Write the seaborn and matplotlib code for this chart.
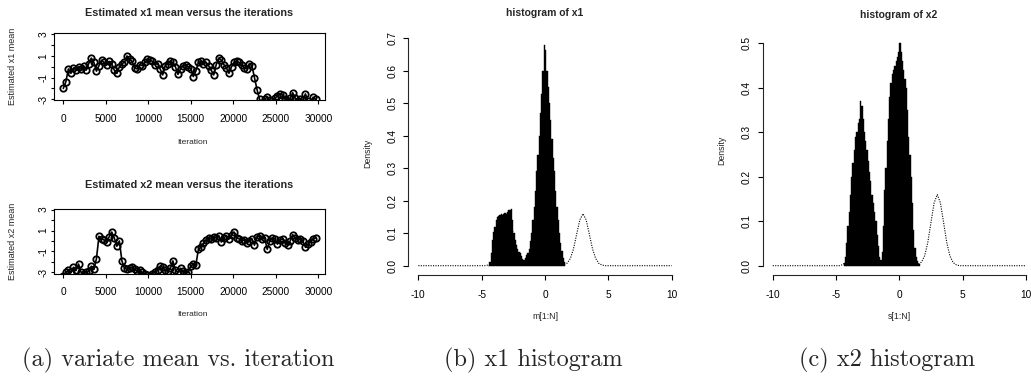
import numpy as np
import pandas as pd
import matplotlib
matplotlib.use("Agg")
import matplotlib.pyplot as plt
import seaborn as sns

# ---------------- data ----------------
iterations = list(range(0, 30000, 300))

x1_mean = [-2.0, -1.4, -0.2, -0.6, -0.1, -0.3, 0.0, -0.2, 0.1, -0.3,
           0.3, 0.8, 0.4, -0.4, 0.1, 0.6, 0.4, 0.2, 0.5, 0.3,
           -0.3, -0.6, 0.0, 0.3, 0.4, 1.0, 0.7, 0.5, -0.1, -0.2,
           0.2, 0.1, 0.4, 0.7, 0.6, 0.5, 0.2, 0.3, -0.2, -0.75,
           0.1, 0.3, 0.5, 0.4, 0.0, -0.7, -0.2, 0.1, 0.2, 0.0,
           -0.2, -0.9, -0.4, 0.4, 0.5, 0.3, 0.4, 0.1, -0.3, -0.75,
           0.2, 0.8, 0.6, 0.2, -0.1, -0.6, 0.0, 0.4, 0.5, 0.4,
           0.2, -0.1, -0.2, 0.3, 0.1, -1.0, -2.1, -3.0, -3.3, -3.0,
           -2.8, -3.1, -3.3, -2.9, -2.7, -2.5, -2.6, -3.0, -3.2, -2.9,
           -2.4, -2.9, -3.2, -3.0, -3.1, -2.5, -3.2, -3.3, -2.8, -3.0]

x2_mean = [-3.3, -3.0, -2.8, -3.0, -2.5, -2.8, -2.2, -3.0, -3.1, -3.0,
           -2.9, -2.4, -2.7, -1.7, 0.45, 0.2, 0.1, -0.1, 0.4, 0.85,
           0.3, -0.5, 0.0, -1.9, -2.6, -2.7, -2.6, -2.5, -2.7, -2.9,
           -2.8, -3.0, -3.1, -3.2, -3.3, -3.1, -3.0, -2.8, -2.4, -2.5,
           -2.8, -2.9, -2.6, -1.9, -2.8, -3.0, -2.6, -2.9, -3.1, -3.0,
           -2.4, -2.2, -2.3, -0.8, -0.6, -0.2, 0.1, 0.3, 0.2, 0.4,
           0.3, 0.5, -0.1, 0.3, 0.5, 0.2, 0.6, 0.85, 0.3, 0.2,
           0.0, 0.1, -0.2, 0.0, 0.2, -0.4, 0.4, 0.5, 0.2, 0.3,
           -0.8, 0.0, 0.3, 0.2, -0.3, 0.1, 0.2, -0.2, -0.4, 0.0,
           0.6, 0.3, 0.1, 0.2, 0.0, -0.6, -0.3, -0.1, 0.2, 0.3]

# histogram of x1: bins of width 0.1, first bin centre -4.45
x1_bin_start = -4.5
x1_density = [0.0, 0.01, 0.04, 0.08, 0.105, 0.12, 0.14, 0.15, 0.152, 0.155,
              0.158, 0.155, 0.16, 0.162, 0.158, 0.165, 0.17, 0.172, 0.176, 0.14,
              0.10, 0.08, 0.065, 0.05, 0.042, 0.04, 0.03, 0.022, 0.018, 0.025,
              0.032, 0.04, 0.05, 0.075, 0.10, 0.14, 0.18, 0.23, 0.29, 0.34,
              0.40, 0.47, 0.53, 0.60, 0.68, 0.665, 0.60, 0.55, 0.50, 0.45,
              0.39, 0.33, 0.29, 0.23, 0.18, 0.14, 0.10, 0.07, 0.045, 0.025,
              0.01]

# histogram of x2: bins of width 0.1, first bin centre -4.35
x2_bin_start = -4.4
x2_density = [0.005, 0.02, 0.05, 0.09, 0.12, 0.16, 0.20, 0.23, 0.26, 0.29,
              0.30, 0.32, 0.33, 0.37, 0.36, 0.33, 0.30, 0.28, 0.26, 0.235,
              0.21, 0.19, 0.16, 0.14, 0.12, 0.10, 0.07, 0.045, 0.02, 0.012,
              0.03, 0.09, 0.17, 0.22, 0.28, 0.33, 0.38, 0.41, 0.43, 0.44,
              0.45, 0.46, 0.47, 0.48, 0.50, 0.48, 0.46, 0.44, 0.42, 0.40,
              0.35, 0.29, 0.25, 0.20, 0.14, 0.08, 0.04, 0.02, 0.01, 0.003]
bin_width = 0.1

# true density (dotted curve)
curve_x = [-10, -4.75, -4.5, -4.25, -4.0, -3.75, -3.5, -3.25, -3.0, -2.75, -2.5,
           -2.25, -2.0, -1.75, -1.5, -1.25, -1.0, -0.75, -0.5, -0.25, 0.0,
           0.25, 0.5, 0.75, 1.0, 1.25, 1.5, 1.75, 2.0, 2.25, 2.5,
           2.75, 3.0, 3.25, 3.5, 3.75, 4.0, 4.25, 4.5, 4.75, 10]
curve_y = [0.0, 0.0, 0.002, 0.007, 0.022, 0.052, 0.097, 0.141, 0.16, 0.141, 0.097,
           0.052, 0.022, 0.008, 0.004, 0.008, 0.022, 0.052, 0.097, 0.141, 0.16,
           0.141, 0.097, 0.052, 0.022, 0.008, 0.004, 0.008, 0.022, 0.052, 0.097,
           0.141, 0.16, 0.141, 0.097, 0.052, 0.022, 0.007, 0.002, 0.0, 0.0]

trace_xticks = [0, 5000, 10000, 15000, 20000, 25000, 30000]
trace_yticks = [-3, -2, -1, 0, 1, 2, 3]
trace_yticklabels = ["-3", "", "-1", "", "1", "", "3"]
hist_xticks = [-10, -5, 0, 5, 10]
hist_xticklabels = ["-10", "-5", "0", "5", "10"]
h1_yticks = [0.0, 0.1, 0.2, 0.3, 0.4, 0.5, 0.6, 0.7]
h2_yticks = [0.0, 0.1, 0.2, 0.3, 0.4, 0.5]

# ---------------- style ----------------
sns.set_theme(style="ticks")
plt.rcParams['font.family'] = ['Liberation Sans', 'DejaVu Sans']
plt.rcParams['axes.linewidth'] = 0.8
plt.rcParams['xtick.major.width'] = 0.8
plt.rcParams['ytick.major.width'] = 0.8

W, H = 1031, 379
fig = plt.figure(figsize=(W / 100, H / 100), dpi=100)
fig.patch.set_facecolor("white")

PT = 72 / 100.0  # points per pixel


def box(l, t, r, b):
    return [l / W, 1 - b / H, (r - l) / W, (b - t) / H]


def ftext(x, y, s, **kw):
    kw.setdefault("ha", "center")
    kw.setdefault("va", "center")
    fig.text(x / W, 1 - y / H, s, **kw)


def style_ticks(ax, xpad, ypad, tl=4):
    ax.tick_params(axis="both", direction="out", length=tl * PT, labelsize=7.3,
                   colors="black")
    ax.tick_params(axis="x", pad=xpad * PT)
    ax.tick_params(axis="y", pad=ypad * PT)
    for lab in ax.get_yticklabels():
        lab.set_rotation(90)
        lab.set_va("center")


# ---------------- trace plots ----------------
for series, (t, b), title, ylab, ty, xl_y in [
        (x1_mean, (33.2, 100.4), "Estimated x1 mean versus the iterations",
         "Estimated x1 mean", 13, 143),
        (x2_mean, (208.5, 273.5), "Estimated x2 mean versus the iterations",
         "Estimated x2 mean", 185, 315)]:
    ax = fig.add_axes(box(53.5, t, 325, b))
    tdf = pd.DataFrame({"iteration": iterations, "mean": series})
    sns.lineplot(data=tdf, x="iteration", y="mean", ax=ax, color="black",
                 linewidth=1.2, marker="o", markersize=4.6,
                 markerfacecolor="none", markeredgecolor="black",
                 markeredgewidth=1.3)
    ax.set_xlim(-1150, 30800)
    ax.set_ylim(-3.1, 3.1)
    ax.set_xticks(trace_xticks)
    ax.set_xticklabels([str(v) for v in trace_xticks])
    ax.set_yticks(trace_yticks)
    ax.set_yticklabels(trace_yticklabels)
    ax.set_xlabel("")
    ax.set_ylabel("")
    for s in ax.spines.values():
        s.set_visible(True)
        s.set_color("black")
    ax.set_facecolor("white")
    style_ticks(ax, xpad=10, ypad=1.5, tl=3.5)
    ftext(189, ty, title, fontsize=7.8, fontweight="bold")
    ftext(193, xl_y, "Iteration", fontsize=6)
    ftext(13, (t + b) / 2, ylab, fontsize=6.5, rotation=90)

# ---------------- histograms ----------------
hist_specs = [
    (x1_density, x1_bin_start, box(408.2, 29.2, 681.8, 274.8), 0.7, h1_yticks,
     "histogram of x1", 545, 13.3, "m[1:N]", 368, 153),
    (x2_density, x2_bin_start, box(762.6, 34.4, 1036.0, 274.6), 0.5, h2_yticks,
     "histogram of x2", 899, 15, "s[1:N]", 722, 150),
]
cdf = pd.DataFrame({"x": curve_x, "y": curve_y})
for dens, start, rect, ymax, yt, title, cx, ty, xlab, ylx, yly in hist_specs:
    ax = fig.add_axes(rect)
    sns.lineplot(data=cdf, x="x", y="y", ax=ax, color="black",
                 linewidth=0.8, linestyle=(0, (1, 1.2)))
    edges = start + bin_width * np.arange(len(dens) + 1)
    centers = (edges[:-1] + edges[1:]) / 2
    hdf = pd.DataFrame({"center": centers, "density": dens})
    sns.histplot(data=hdf, x="center", weights="density", bins=list(edges),
                 stat="count", color="black", edgecolor="black", alpha=1,
                 linewidth=0.3, ax=ax)
    ax.set_xlim(-10.8, 10.8)
    ax.set_ylim(-0.04 * ymax, ymax * 1.04)
    ax.set_xticks(hist_xticks)
    ax.set_xticklabels(hist_xticklabels)
    ax.set_yticks(yt)
    ax.set_yticklabels([f"{v:.1f}" for v in yt])
    ax.set_xlabel("")
    ax.set_ylabel("")
    ax.spines["top"].set_visible(False)
    ax.spines["right"].set_visible(False)
    ax.spines["left"].set_bounds(0, ymax)
    ax.spines["bottom"].set_bounds(-10, 10)
    ax.set_facecolor("none")
    style_ticks(ax, xpad=10, ypad=6, tl=5)
    ftext(cx, ty, title, fontsize=7.5, fontweight="bold")
    ftext(cx, 316.7, xlab, fontsize=6.3)
    ftext(ylx, yly, "Density", fontsize=6.3, rotation=90)

# ---------------- captions ----------------
cap_kw = dict(fontsize=17.5, family="cmr10")
ftext(178.5, 360, "(a) variate mean vs. iteration", **cap_kw)
ftext(533, 360, "(b) x1 histogram", **cap_kw)
ftext(887.5, 360, "(c) x2 histogram", **cap_kw)

fig.savefig("out.png", dpi=100, facecolor="white")
